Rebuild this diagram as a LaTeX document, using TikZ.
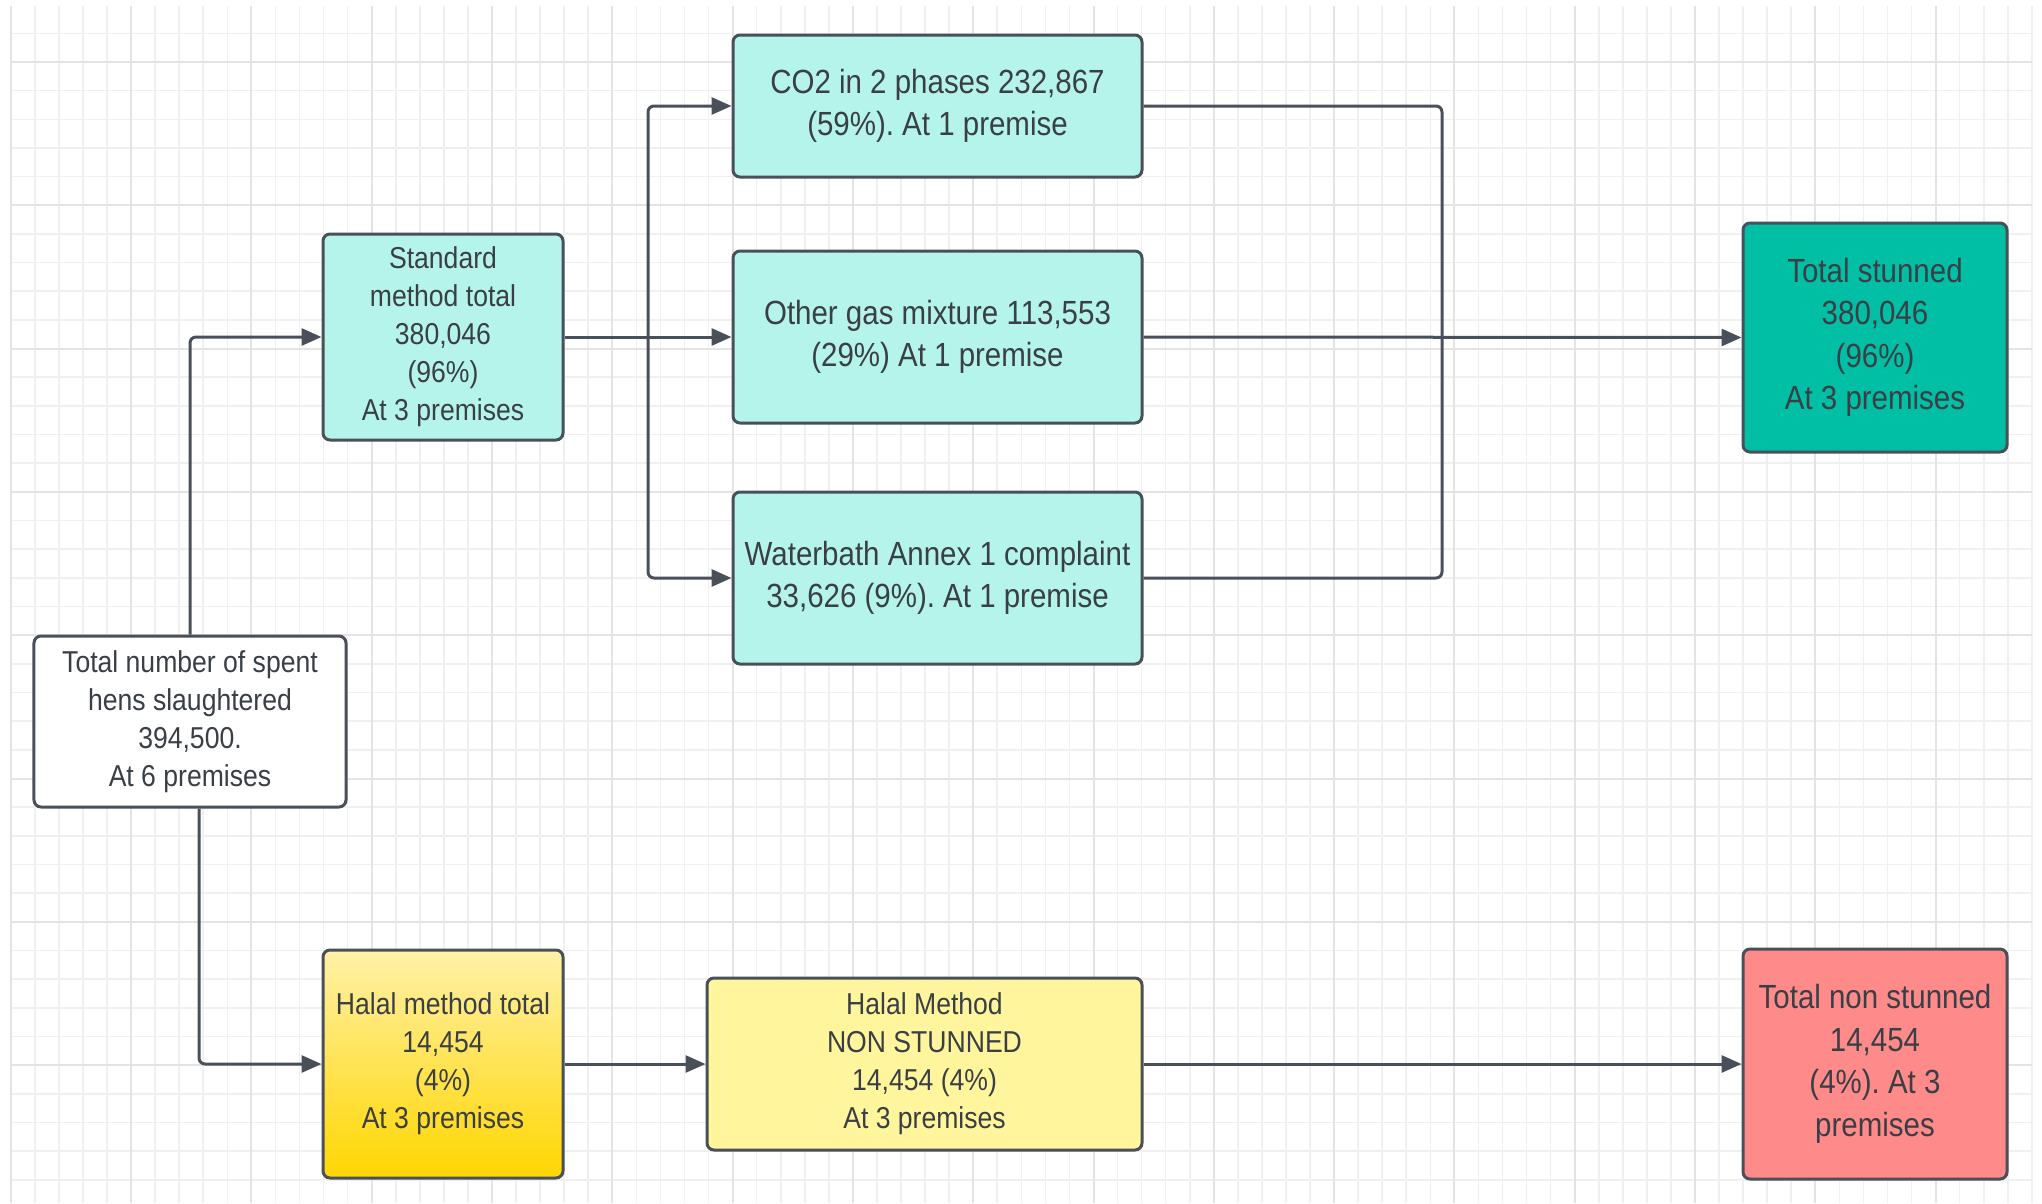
\documentclass[tikz,border=0pt]{standalone}
\usepackage{fontspec}
\setmainfont{Liberation Sans}[FakeStretch=0.88]
\usetikzlibrary{arrows.meta}
\definecolor{gridminor}{HTML}{F0F0F0}
\definecolor{gridmajor}{HTML}{E4E4E4}
\definecolor{edge}{HTML}{4A5059}
\definecolor{ink}{HTML}{3A3F46}
\definecolor{aqua}{HTML}{B5F4EA}
\definecolor{teal}{HTML}{00BFA5}
\definecolor{salmon}{HTML}{FF8A8A}
\definecolor{paleyellow}{HTML}{FFF59D}
\definecolor{goldtop}{HTML}{FFF1A8}
\definecolor{goldbot}{HTML}{FFD600}
\frenchspacing
\tikzset{
  box/.style={draw=edge, line width=3bp, rounded corners=7bp, inner sep=0pt,
    align=center, text=ink},
  smalltext/.style={font=\fontsize{30.2bp}{38bp}\selectfont},
  bigtext/.style={font=\fontsize{33.5bp}{42.5bp}\selectfont},
  conn/.style={draw=edge, line width=3bp, rounded corners=6bp,
    -{Triangle[length=20bp,width=17bp]}},
  plain/.style={draw=edge, line width=3bp, rounded corners=6bp},
}
\begin{document}
\begin{tikzpicture}[x=1bp,y=-1bp]
\useasboundingbox (0,0) rectangle (2042,1203);
\fill[white] (0,0) rectangle (2042,1203);
% grid
\foreach \i in {0,...,84}{
  \draw[gridminor, line width=1.6bp] ({10.8+24.06*\i},6) -- ({10.8+24.06*\i},1203);
}
\foreach \j in {-1,...,40}{
  \draw[gridminor, line width=1.6bp] (10.8,{62+28.66*\j}) -- (2032,{62+28.66*\j});
}
\foreach \i in {0,...,16}{
  \draw[gridmajor, line width=2bp] ({10.8+120.3*\i},6) -- ({10.8+120.3*\i},1203);
}
\foreach \j in {0,...,8}{
  \draw[gridmajor, line width=2bp] (10.8,{62+143.3*\j}) -- (2032,{62+143.3*\j});
}
\fill[white] (0,0) rectangle (2042,5.5);
\fill[white] (0,0) rectangle (10.3,1203);
\fill[white] (2033,0) rectangle (2042,1203);

% nodes
\node[box, smalltext, fill=white, minimum width=312bp, minimum height=171bp] (tot) at (190,721.5)
  {Total number of spent\\hens slaughtered\\394,500.\\At 6 premises};
\node[box, smalltext, fill=aqua, minimum width=240bp, minimum height=206bp] (std) at (443,337)
  {Standard\\method total\\380,046\\(96\%)\\At 3 premises};
\node[box, bigtext, fill=aqua, minimum width=409bp, minimum height=142bp] (co2) at (937.5,106)
  {CO2 in 2 phases 232,867\\(59\%). At 1 premise};
\node[box, bigtext, fill=aqua, minimum width=409bp, minimum height=172bp] (gas) at (937.5,337)
  {Other gas mixture 113,553\\(29\%) At 1 premise};
\node[box, bigtext, fill=aqua, minimum width=409bp, minimum height=172bp] (wat) at (937.5,578)
  {Waterbath Annex 1 complaint\\33,626 (9\%). At 1 premise};
\node[box, bigtext, fill=teal, minimum width=264bp, minimum height=229bp] (stun) at (1875,337.5)
  {Total stunned\\380,046\\(96\%)\\At 3 premises};
\node[box, smalltext, top color=goldtop, bottom color=goldbot, minimum width=240bp, minimum height=228bp] (hal) at (443,1064)
  {Halal method total\\14,454\\(4\%)\\At 3 premises};
\node[box, smalltext, fill=paleyellow, minimum width=435bp, minimum height=172bp] (non) at (924.5,1064)
  {Halal Method\\NON STUNNED\\14,454 (4\%)\\At 3 premises};
\node[box, bigtext, fill=salmon, minimum width=264bp, minimum height=230bp] (nstun) at (1875,1064)
  {Total non stunned\\14,454\\(4\%). At 3\\premises};

% connectors
\coordinate (split) at (648,337);
\coordinate (merge) at (1442,337);
\draw[conn] (tot.north) |- (std.west);
\draw[conn] ([xshift=9bp]tot.south) |- (hal.west);
\draw[plain] (std.east) -- (split);
\draw[conn] (split) |- (co2.west);
\draw[conn] (split) -- (gas.west);
\draw[conn] (split) |- (wat.west);
\draw[plain] (co2.east) -| (merge);
\draw[plain] (wat.east) -| (merge);
\draw[conn] (gas.east) -- (stun.west);
\draw[conn] (hal.east) -- (non.west);
\draw[conn] (non.east) -- (nstun.west);
\end{tikzpicture}
\end{document}
